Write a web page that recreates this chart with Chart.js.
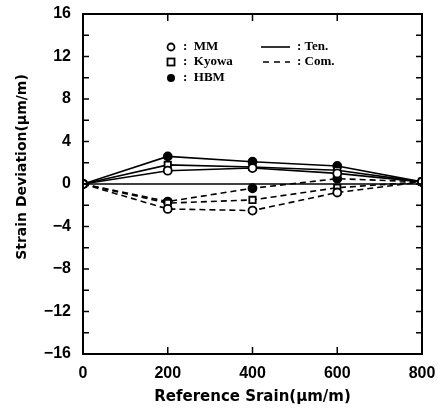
<!DOCTYPE html>
<html><head><meta charset="utf-8">
<script src="https://cdn.jsdelivr.net/npm/chart.js@4"></script>
<style>html,body{margin:0;padding:0;background:#fff}#wrap{width:438px;height:410px}</style>
</head><body><div id="wrap"><canvas id="c" width="438" height="410"></canvas></div>
<script>
const xValues = [0, 200, 400, 600, 800];
const tenMM    = [0, 1.25, 1.5, 1.0, 0.2];
const tenKyowa = [0, 1.8, 1.6, 1.3, 0.2];
const tenHBM   = [0, 2.6, 2.1, 1.7, 0.2];
const comMM    = [0, -2.35, -2.5, -0.8, 0.2];
const comKyowa = [0, -1.8, -1.5, -0.35, 0.2];
const comHBM   = [0, -1.65, -0.4, 0.5, 0.2];
const zeroLine = [0, 0, 0, 0, 0];
const yTicks = [-16, -12, -8, -4, 0, 4, 8, 12, 16];
const xTicks = [0, 200, 400, 600, 800];
const legendGauges = ['MM', 'Kyowa', 'HBM'];
const legendModes = ['Ten.', 'Com.'];

const pts = arr => arr.map((v, i) => ({x: xValues[i], y: v}));
function ds(data, style, dashed, label) {
  return {
    label, data: pts(data), borderColor: '#000', borderWidth: 1.6,
    borderDash: dashed ? [6, 4] : [],
    pointStyle: style === 'sq' ? 'rect' : 'circle',
    pointRadius: style === 'sq' ? 4.5 : 4,
    pointBorderWidth: 1.8,
    pointBackgroundColor: style === 'fill' ? '#000' : '#fff',
    pointBorderColor: '#000', fill: false, tension: 0
  };
}

const framePlugin = {
  id: 'frame',
  afterDatasetsDraw(chart) {
    const {ctx, chartArea: a, scales: {x, y}} = chart;
    ctx.save();
    ctx.strokeStyle = '#000';
    ctx.lineWidth = 2;
    ctx.strokeRect(a.left, a.top, a.right - a.left, a.bottom - a.top);
    ctx.lineWidth = 1.5;
    for (let v = -16; v <= 16; v += 2) {
      const py = y.getPixelForValue(v);
      ctx.beginPath(); ctx.moveTo(a.left, py); ctx.lineTo(a.left + 6, py); ctx.stroke();
      ctx.beginPath(); ctx.moveTo(a.right, py); ctx.lineTo(a.right - 6, py); ctx.stroke();
    }
    for (let v = 200; v < 800; v += 200) {
      const px = x.getPixelForValue(v);
      ctx.beginPath(); ctx.moveTo(px, a.bottom); ctx.lineTo(px, a.bottom - 7); ctx.stroke();
      ctx.beginPath(); ctx.moveTo(px, a.top); ctx.lineTo(px, a.top + 7); ctx.stroke();
    }
    // y title
    ctx.save();
    ctx.translate(22, 167);
    ctx.rotate(-Math.PI / 2);
    ctx.font = 'bold 14px "DejaVu Sans"';
    ctx.fillStyle = '#000';
    ctx.textAlign = 'center'; ctx.textBaseline = 'middle';
    ctx.fillText('Strain Deviation(\u03BCm/m)', 0, 0);
    ctx.restore();
    // legend
    ctx.fillStyle = '#000';
    ctx.font = 'bold 13px "Liberation Serif"';
    ctx.textBaseline = 'middle'; ctx.textAlign = 'left';
    const rows = [47, 62, 78];
    ctx.lineWidth = 1.8;
    ctx.beginPath(); ctx.arc(171, rows[0], 3.5, 0, Math.PI * 2); ctx.stroke();
    ctx.strokeRect(167.5, rows[1] - 3.5, 7, 7);
    ctx.beginPath(); ctx.arc(171, rows[2], 4, 0, Math.PI * 2); ctx.fill();
    legendGauges.forEach((g, i) => ctx.fillText(':  ' + g, 183, rows[i]));
    ctx.lineWidth = 1.6;
    ctx.beginPath(); ctx.moveTo(261, rows[0]); ctx.lineTo(290, rows[0]); ctx.stroke();
    ctx.setLineDash([6, 5]);
    ctx.beginPath(); ctx.moveTo(263, rows[1]); ctx.lineTo(290, rows[1]); ctx.stroke();
    ctx.setLineDash([]);
    legendModes.forEach((m, i) => ctx.fillText(': ' + m, 297, rows[i]));
    ctx.restore();
  }
};

new Chart(document.getElementById('c'), {
  type: 'line',
  data: {
    datasets: [
      {label: 'zero', data: pts(zeroLine), borderColor: '#000', borderWidth: 1.4, pointRadius: 0, fill: false},
      ds(tenMM, 'open', false, 'MM Ten.'),
      ds(tenKyowa, 'sq', false, 'Kyowa Ten.'),
      ds(tenHBM, 'fill', false, 'HBM Ten.'),
      ds(comMM, 'open', true, 'MM Com.'),
      ds(comKyowa, 'sq', true, 'Kyowa Com.'),
      ds(comHBM, 'fill', true, 'HBM Com.')
    ]
  },
  options: {
    responsive: false, animation: false,
    layout: {padding: {left: 0, right: 16, top: 14, bottom: 0}},
    plugins: {legend: {display: false}, tooltip: {enabled: false}},
    scales: {
      x: {
        type: 'linear', min: 0, max: 800,
        afterBuildTicks: s => { s.ticks = xTicks.map(v => ({value: v})); },
        afterFit: s => { s.height = 56; s.paddingLeft = 0; s.paddingRight = 0; },
        grid: {display: false, drawTicks: false},
        border: {display: false},
        ticks: {color: '#000', font: {family: 'Liberation Sans', size: 16, weight: 'bold'}, padding: 10, maxRotation: 0},
        title: {display: true, text: 'Reference Srain(\u03BCm/m)', color: '#000', font: {family: 'DejaVu Sans', size: 15, weight: 'bold'}, padding: {top: 5}}
      },
      y: {
        type: 'linear', min: -16, max: 16,
        afterBuildTicks: s => { s.ticks = yTicks.map(v => ({value: v})); },
        afterFit: s => { s.width = 83; s.paddingTop = 0; s.paddingBottom = 0; },
        grid: {display: false, drawTicks: false},
        border: {display: false},
        ticks: {color: '#000', font: {family: 'Liberation Sans', size: 16, weight: 'bold'}, padding: 12,
          callback: v => v < 0 ? '\u2212' + Math.abs(v) : String(v)}
      }
    }
  },
  plugins: [framePlugin]
});
</script></body></html>
